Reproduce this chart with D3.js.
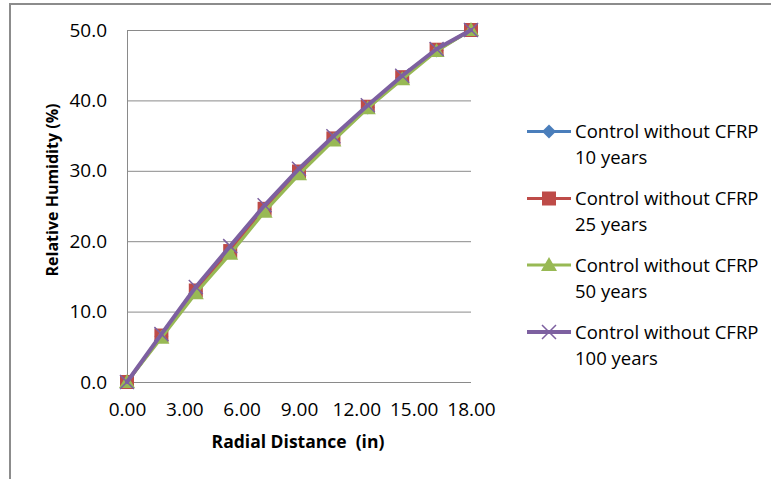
<!DOCTYPE html>
<html><head><meta charset="utf-8">
<script src="https://cdn.jsdelivr.net/npm/d3@7"></script>
<style>
html,body{margin:0;padding:0;background:#fff;}
svg{display:block;font-family:"Open Sans",sans-serif;}
text{white-space:pre;}
</style></head>
<body><svg id="c" width="771" height="479"></svg>
<script>
const radialDistance = [0, 1.8, 3.6, 5.4, 7.2, 9.0, 10.8, 12.6, 14.4, 16.2, 18.0];
const rh10 = [0, 6.5, 12.9, 18.5, 24.5, 29.8, 34.5, 39.0, 43.2, 47.1, 50.0];
const rh25 = [0, 6.6, 13.0, 18.6, 24.6, 29.9, 34.6, 39.1, 43.3, 47.2, 50.0];
const rh50 = [0, 6.3, 12.6, 18.2, 24.2, 29.5, 34.3, 38.9, 43.0, 47.0, 50.0];
const rh100 = [0, 6.8, 13.5, 19.3, 25.1, 30.3, 34.9, 39.3, 43.5, 47.3, 50.0];
const seriesNames = ["Control without CFRP|10 years","Control without CFRP|25 years","Control without CFRP|50 years","Control without CFRP|100 years"];
const xTicks = [0, 3, 6, 9, 12, 15, 18];
const yTicks = [0, 10, 20, 30, 40, 50];

const colors = ["#4a7ebb", "#be4b48", "#98b954", "#7d60a0"];
const markers = ["diamond", "square", "triangle", "cross"];
const allSeries = [rh10, rh25, rh50, rh100];

const svg = d3.select("#c");
// outer chart border
svg.append("rect").attr("x",10).attr("y",4).attr("width",800).attr("height",520)
  .attr("fill","#fff").attr("stroke","#8c8c8c").attr("stroke-width",2);

const x = d3.scaleLinear().domain([0,18]).range([127,471]);
const y = d3.scaleLinear().domain([0,50]).range([382,30]);

// gridlines
svg.append("g").selectAll("line").data(yTicks).join("line")
  .attr("x1",x(0)).attr("x2",x(18)).attr("y1",d=>y(d)+0.5).attr("y2",d=>y(d)+0.5)
  .attr("stroke","#8a8a8a").attr("stroke-width",1);
// y axis line
svg.append("line").attr("x1",x(0)+0.5).attr("x2",x(0)+0.5).attr("y1",y(50)).attr("y2",y(0)+1)
  .attr("stroke","#8a8a8a").attr("stroke-width",1);

// axes labels via d3 axis
const yAxis = d3.axisLeft(y).tickValues(yTicks).tickFormat(d3.format(".1f")).tickSize(0).tickPadding(20);
const gy = svg.append("g").attr("transform",`translate(${x(0)},0)`).call(yAxis);
gy.select(".domain").remove();
gy.selectAll("text").attr("font-size",19).attr("fill","#000").attr("font-family","Open Sans");

const xAxis = d3.axisBottom(x).tickValues(xTicks).tickFormat(d3.format(".2f")).tickSize(0).tickPadding(21);
const gx = svg.append("g").attr("transform",`translate(0,${y(0)})`).call(xAxis);
gx.select(".domain").remove();
gx.selectAll("text").attr("font-size",19).attr("fill","#000").attr("font-family","Open Sans");

// titles
svg.append("text").attr("x",298).attr("y",448).attr("text-anchor","middle")
  .attr("font-weight","bold").attr("font-size",17.5).text("Radial Distance  (in)");
svg.append("text").attr("transform","translate(58,190) rotate(-90)").attr("text-anchor","middle")
  .attr("font-weight","bold").attr("font-size",16).text("Relative Humidity (%)");

function drawMarker(g, type, cx, cy, color){
  if(type==="diamond"){
    const s=7;
    g.append("path").attr("d",`M${cx},${cy-s}L${cx+s},${cy}L${cx},${cy+s}L${cx-s},${cy}Z`).attr("fill",color);
  } else if(type==="square"){
    const s=7;
    g.append("rect").attr("x",cx-s).attr("y",cy-s).attr("width",2*s).attr("height",2*s).attr("fill",color);
  } else if(type==="triangle"){
    const s=8;
    g.append("path").attr("d",`M${cx},${cy-s}L${cx+s},${cy+s*0.75}L${cx-s},${cy+s*0.75}Z`).attr("fill",color);
  } else {
    const s=7;
    g.append("path").attr("d",`M${cx-s},${cy-s}L${cx+s},${cy+s}M${cx+s},${cy-s}L${cx-s},${cy+s}`)
      .attr("stroke",color).attr("stroke-width",1.5).attr("fill","none");
  }
}

const line = d3.line().x((d,i)=>x(radialDistance[i])).y(d=>y(d));
allSeries.forEach((vals,k)=>{
  const g = svg.append("g");
  g.append("path").datum(vals).attr("d",line).attr("fill","none")
    .attr("stroke",colors[k]).attr("stroke-width",k===3?4:3.2).attr("stroke-linejoin","round").attr("stroke-linecap","round");
  vals.forEach((v,i)=>drawMarker(g, markers[k], x(radialDistance[i]), y(v), colors[k]));
});

// legend
const legY = [131.5, 198.5, 265, 332];
seriesNames.forEach((nm,k)=>{
  const g = svg.append("g");
  const ly = legY[k];
  g.append("line").attr("x1",527).attr("x2",571).attr("y1",ly).attr("y2",ly)
    .attr("stroke",colors[k]).attr("stroke-width",k===3?4:3.2);
  drawMarker(g, markers[k], 549, ly, colors[k]);
  const parts = nm.split("|");
  g.append("text").attr("x",575).attr("y",ly+6.5).attr("font-size",18.5).text(parts[0]);
  g.append("text").attr("x",575).attr("y",ly+32.5).attr("font-size",18.5).text(parts[1]);
});
</script></body></html>
